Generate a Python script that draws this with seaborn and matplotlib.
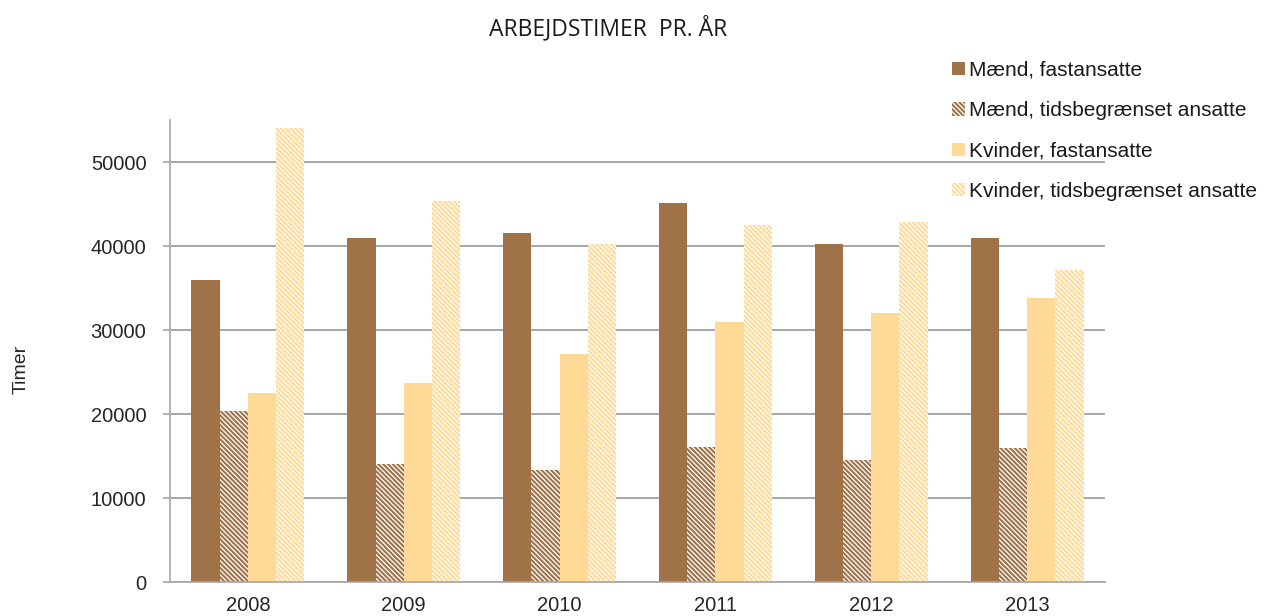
import numpy as np
import pandas as pd
import seaborn as sns
import matplotlib.pyplot as plt
from matplotlib.patches import Patch

# data
years = ['2008', '2009', '2010', '2011', '2012', '2013']
series = ['Mænd, fastansatte', 'Mænd, tidsbegrænset ansatte',
          'Kvinder, fastansatte', 'Kvinder, tidsbegrænset ansatte']
maend_fast = [35900, 40900, 41600, 45100, 40250, 40900]
maend_tids = [20300, 14000, 13300, 16100, 14500, 16000]
kvinder_fast = [22500, 23700, 27100, 30900, 32000, 33800]
kvinder_tids = [54000, 45300, 40250, 42550, 42800, 37100]
yticks = [0, 10000, 20000, 30000, 40000, 50000]

brown = '#A07248'
light = '#FEDA96'
colors = [brown, brown, light, light]
hatch = '\\' * 7
hatches = [None, hatch, None, hatch]

df = pd.DataFrame({
    'year': years * 4,
    'serie': np.repeat(series, len(years)),
    'timer': maend_fast + maend_tids + kvinder_fast + kvinder_tids,
})

sns.set_style('white')
plt.rcParams['font.family'] = ['Liberation Sans', 'DejaVu Sans']
plt.rcParams['hatch.linewidth'] = 1.5

fig = plt.figure(figsize=(12.65, 6.16), dpi=100)
ax = fig.add_axes([170 / 1265, 1 - 582 / 616, 935 / 1265, 462 / 616])

sns.barplot(data=df, x='year', y='timer', hue='serie', hue_order=series,
            palette=colors, saturation=1, width=0.725, linewidth=0,
            legend=False, ax=ax)

# hatched series: white face, coloured stripes
for cont, col, h in zip(ax.containers, colors, hatches):
    if h is None:
        continue
    for bar in cont:
        bar.set_facecolor('white')
        bar.set_edgecolor(col)
        bar.set_hatch(h)
        bar.set_linewidth(0)

ax.set_xlim(-0.5, len(years) - 0.5)
ax.set_ylim(0, 55000)
ax.set_yticks(yticks)
ax.set_axisbelow(True)
ax.yaxis.grid(True, color='#A6A6A6', linewidth=1.4)

for side in ['top', 'right']:
    ax.spines[side].set_visible(False)
for side in ['left', 'bottom']:
    ax.spines[side].set_color('#A6A6A6')
    ax.spines[side].set_linewidth(1.2)

# category boundary ticks on x axis
ax.set_xticks(np.arange(-0.5, len(years), 1.0), minor=True)
ax.tick_params(axis='x', which='minor', length=6, width=1.2, color='#A6A6A6', direction='out')
ax.tick_params(axis='x', which='major', length=0, pad=10, labelsize=14.5, labelcolor='#262626')
ax.tick_params(axis='y', which='major', length=5, width=1.2, color='#A6A6A6',
               direction='out', left=True, pad=12, labelsize=14.5, labelcolor='#262626')

ax.set_xlabel('')
ax.set_ylabel('Timer', fontsize=14, color='#262626')
ax.yaxis.set_label_coords(-0.15, 0.46)

fig.text(608 / 1265, 1 - 29 / 616, 'ARBEJDSTIMER  PR. ÅR', ha='center', va='center',
         fontsize=16.5, color='#1a1a1a', family=['Open Sans', 'DejaVu Sans'])

handles = [Patch(facecolor='white' if h else col, edgecolor=col, hatch=h, linewidth=0)
           for col, h in zip(colors, hatches)]
fig.legend(handles, series, loc='upper left', bbox_to_anchor=(952 / 1265, 1 - 61 / 616),
           frameon=False, fontsize=15, handlelength=0.6, handleheight=0.6,
           handletextpad=0.2, labelspacing=1.02, borderaxespad=0, borderpad=0,
           labelcolor='#1a1a1a')

fig.savefig('out.png', dpi=100)
